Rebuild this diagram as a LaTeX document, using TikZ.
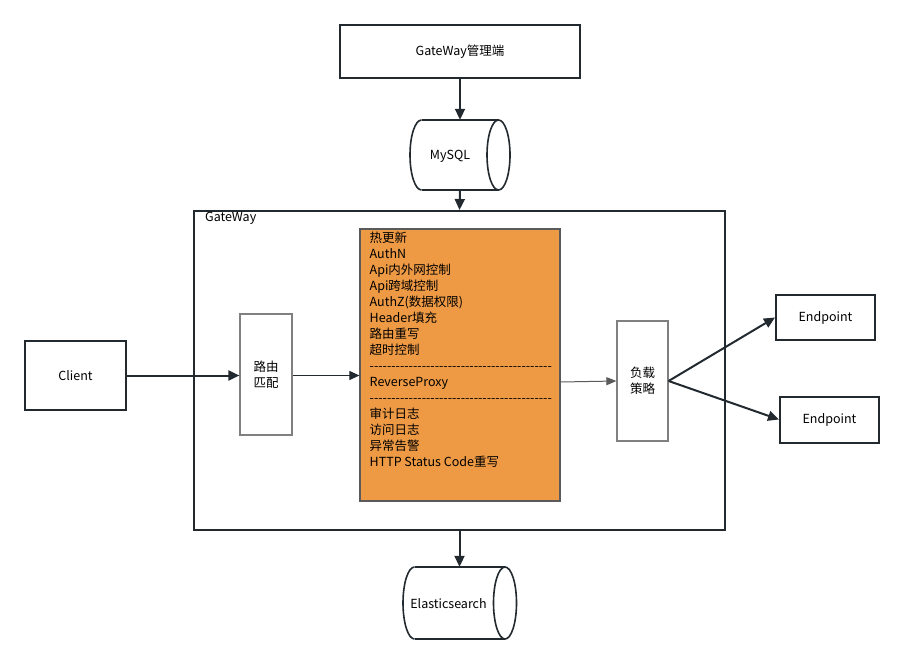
\documentclass[tikz,border=0pt]{standalone}
\usepackage{fontspec}
\setmainfont{Noto Sans CJK SC}
\usetikzlibrary{arrows.meta,calc}
\definecolor{dk}{HTML}{222A30}
\definecolor{gr}{HTML}{808080}
\definecolor{org}{HTML}{EE9A45}
\newcommand\hyrow{-{}-{}-{}-{}-{}-{}-{}-{}-{}-{}-{}-{}-{}-{}-{}-{}-{}-{}-{}-{}-{}-{}-{}-{}-{}-{}-{}-{}-{}-{}-{}-{}-{}-{}-{}-{}-{}-{}-{}-{}-{}-{}}
\begin{document}
\begin{tikzpicture}[x=1pt,y=-1pt,
  every node/.style={font=\fontsize{12.5}{16}\selectfont, inner sep=0pt},
  bigbox/.style={draw=dk, line width=2pt, fill=white},
  smallbox/.style={draw=gr, line width=1.2pt, fill=white, align=center},
  cylnode/.style={inner sep=0pt},
  cylline/.style={draw=dk, line width=1.6pt},
  thickarrow/.style={draw=dk, line width=2pt, -{Triangle[length=11pt,width=10pt]}},
  thinarrow/.style={draw=dk, line width=1pt, -{Triangle[length=10pt,width=9pt]}},
  grayarrow/.style={draw=gr!70!black, line width=1pt, -{Triangle[length=10pt,width=8pt]}}
]
\useasboundingbox (0,0) rectangle (904,663);

% boxes
\node[bigbox, minimum width=240pt, minimum height=53pt] (admin) at (460,51.5) {GateWay管理端};
\node[cylnode, minimum width=100pt, minimum height=70pt] (mysql) at (460,155) {};
\node[bigbox, minimum width=531pt, minimum height=319pt, fill=none] (gw) at (459.5,370.5) {};
\node[anchor=north west] (gwlabel) at (205,212) {GateWay};
\node[bigbox, minimum width=101pt, minimum height=69pt] (client) at (75.5,375.5) {Client};
\node[smallbox, minimum width=52pt, minimum height=121pt] (route) at (266,374.5) {路由\\匹配};
\node[draw=gr!70!black, line width=1.2pt, fill=org, minimum width=200pt, minimum height=272pt] (core) at (460,365) {};
\node[smallbox, minimum width=51pt, minimum height=120pt] (lb) at (642.5,381) {负载\\策略};
\node[bigbox, minimum width=99pt, minimum height=45pt] (ep1) at (825.5,317.5) {\raisebox{-1.5pt}{Endpoint}};
\node[bigbox, minimum width=99pt, minimum height=46pt] (ep2) at (829.5,419.5) {\raisebox{-1.5pt}{Endpoint}};
\node[cylnode, minimum width=113pt, minimum height=72pt] (es) at (459.5,603) {};

% core text
\node[anchor=north west, align=left, font=\fontsize{12.5}{16}\selectfont] (coretext) at (369.5,231.5) {热更新\\AuthN\\Api内外网控制\\Api跨域控制\\AuthZ(数据权限)\\Header填充\\路由重写\\超时控制\\\hyrow\\ReverseProxy\\\hyrow\\审计日志\\访问日志\\异常告警\\HTTP Status Code重写};

% MySQL outline
\draw[cylline] (421.5,120) -- (498.5,120) (421.5,190) -- (498.5,190);
\draw[cylline] (421.5,120) arc[start angle=90, end angle=270, x radius=11.5, y radius=-35];
\draw[cylline] (498.5,155) ellipse[x radius=11.5, y radius=35];
\node at ($(mysql.center)+(-10,1)$) {MySQL};
% ES outline
\draw[cylline] (414.5,567) -- (505,567) (414.5,639) -- (505,639);
\draw[cylline] (414.5,567) arc[start angle=90, end angle=270, x radius=11.5, y radius=-36];
\draw[cylline] (505,603) ellipse[x radius=11.5, y radius=36];
\node at ($(es.center)+(-11,1)$) {Elasticsearch};

% connectors
\draw[thickarrow] (admin.south) -- (mysql.north);
\draw[thickarrow] (mysql.south) -- (gw.north);
\draw[thickarrow] (gw.south) -- (es.north);
\draw[thickarrow] (client.east) -- (route.west |- client.east);
\draw[thinarrow] (route.east |- client.east) -- (core.west |- client.east);
\draw[grayarrow] ($(core.east)+(0,17)$) -- (lb.west);
\draw[thickarrow] (lb.east) -- (ep1.west);
\draw[thickarrow] (lb.east) -- (ep2.west);
\end{tikzpicture}
\end{document}
